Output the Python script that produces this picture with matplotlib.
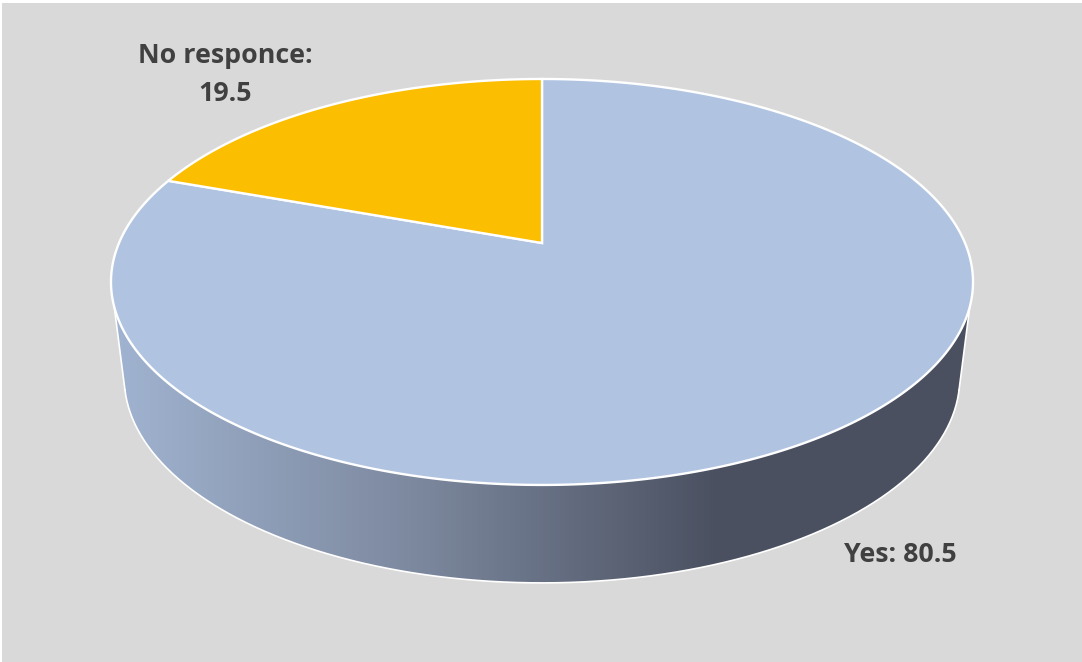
import numpy as np
import matplotlib
matplotlib.use('Agg')
import matplotlib.pyplot as plt
from matplotlib.colors import LinearSegmentedColormap
from matplotlib.patches import Polygon

labels = ['Yes', 'No responce']
values = [80.5, 19.5]
colors = ['#B0C4E2', '#FCBE00']

# perspective of the disc, pixel units
k = 0.192
cx = 542

def rim(theta, cy, a, b):
    # theta is clockwise from 12 o'clock, far side comes out smaller
    u, v = np.sin(theta), np.cos(theta)
    w = 1 + k * v
    return cx + a * u / w, cy - b * v / w

def top(theta):
    return rim(theta, 243, 423, 195.5)

def bottom(theta):
    return rim(theta, 338.6, 410, 197.4)

fig = plt.figure(figsize=(10.82, 6.62), dpi=100, facecolor='white')
ax = fig.add_axes([0, 0, 1, 1])
ax.set_xlim(0, 1082)
ax.set_ylim(662, 0)
ax.axis('off')
ax.add_patch(Polygon([[2, 3], [1082, 3], [1082, 662], [2, 662]], fc='#D9D9D9', ec='none', zorder=0))

# side wall, shaded left to right
t_top = np.linspace(np.pi - np.arccos(0.308), np.pi + np.arccos(0.308), 300)
t_bot = np.linspace(np.pi + np.arccos(0.248), np.pi - np.arccos(0.248), 300)
xs = np.r_[top(t_top)[0], bottom(t_bot)[0]]
ys = np.r_[top(t_top)[1], bottom(t_bot)[1]]
wall = Polygon(np.c_[xs, ys], fc='none', ec='none', zorder=1)
ax.add_patch(wall)
cmap = LinearSegmentedColormap.from_list('wall', [(0, '#A0B3D0'), (0.5, '#7C889E'), (1, '#4A5060')])
grad = np.clip((np.arange(1082) - 115) / 605, 0, 1).reshape(1, -1)
im = ax.imshow(grad, cmap=cmap, extent=[0, 1082, 662, 0], aspect='auto', zorder=1)
im.set_clip_path(wall)
ax.set_xlim(0, 1082)
ax.set_ylim(662, 0)
ax.plot(*bottom(t_bot), color='white', lw=1.2, zorder=2)
ax.plot([top(t_top)[0][-1], bottom(t_bot)[0][0]], [top(t_top)[1][-1], bottom(t_bot)[1][0]], color='white', lw=1.2, zorder=2)
ax.plot([top(t_top)[0][0], bottom(t_bot)[0][-1]], [top(t_top)[1][0], bottom(t_bot)[1][-1]], color='white', lw=1.2, zorder=2)

# slices from 12 o'clock, clockwise
edges = np.r_[0, np.cumsum(values)] / np.sum(values) * 2 * np.pi
for i in range(len(values)):
    t = np.linspace(edges[i], edges[i + 1], 400)
    x, y = top(t)
    pts = np.c_[np.r_[cx, x], np.r_[243, y]]
    ax.add_patch(Polygon(pts, closed=True, fc=colors[i], ec='white', lw=1.7, joinstyle='miter', zorder=3))

font = dict(family='Open Sans', fontweight='bold', color='#404040', fontsize=19.3, ha='center', va='center', zorder=4)
ax.text(225, 56, f'{labels[1]}:', **font)
ax.text(225, 94, f'{values[1]}', **font)
ax.text(900.5, 555, f'{labels[0]}: {values[0]}', **font)

fig.savefig('out.png', dpi=100)
